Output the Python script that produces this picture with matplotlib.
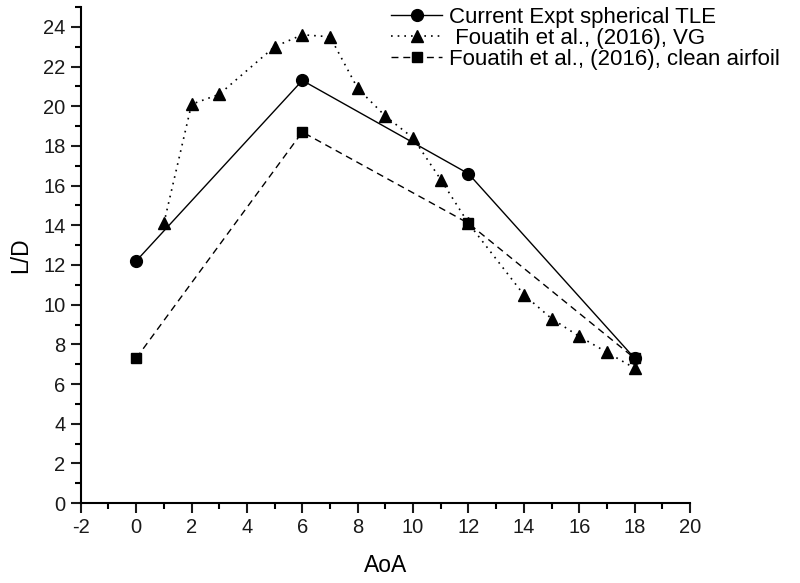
import numpy as np
import matplotlib.pyplot as plt
from matplotlib.ticker import MultipleLocator

plt.rcParams['font.family'] = ['Liberation Sans', 'DejaVu Sans']
plt.rcParams['axes.unicode_minus'] = False

# Current experiment, spherical TLE
aoa_tle = [0, 6, 12, 18]
ld_tle = [12.2, 21.3, 16.6, 7.3]

# Fouatih et al. (2016), VG
aoa_vg = [1, 2, 3, 5, 6, 7, 8, 9, 10, 11, 12, 14, 15, 16, 17, 18]
ld_vg = [14.1, 20.1, 20.6, 23.0, 23.6, 23.5, 20.9, 19.5, 18.4, 16.3, 14.1,
         10.5, 9.3, 8.4, 7.6, 6.8]

# Fouatih et al. (2016), clean airfoil
aoa_clean = [0, 6, 12, 18]
ld_clean = [7.3, 18.7, 14.1, 7.3]

fig = plt.figure(figsize=(8, 5.83), dpi=100)
ax = fig.add_axes([0.101, 0.137, 0.7615, 0.851])

ax.plot(aoa_tle, ld_tle, 'k-', marker='o', ms=8.5, lw=1,
        label='Current Expt spherical TLE')
ax.plot(aoa_vg, ld_vg, 'k', ls=(0, (1, 3)), marker='^', ms=9, lw=1.2,
        label=' Fouatih et al., (2016), VG')
ax.plot(aoa_clean, ld_clean, 'k', ls=(0, (5, 3.5)), marker='s', ms=7.5, lw=1,
        label='Fouatih et al., (2016), clean airfoil')

ax.set_xlim(-2, 20)
ax.set_ylim(0, 25)
ax.xaxis.set_major_locator(MultipleLocator(2))
ax.xaxis.set_minor_locator(MultipleLocator(1))
ax.yaxis.set_minor_locator(MultipleLocator(1))
ax.set_yticks(np.arange(0, 25, 2))

for s in ['top', 'right']:
    ax.spines[s].set_visible(False)
for s in ['left', 'bottom']:
    ax.spines[s].set_linewidth(1.5)
ax.tick_params(which='major', length=7, width=1.5, labelsize=14.5,
               colors='#1a1a1a', pad=4)
ax.tick_params(which='minor', length=4, width=1.5)

ax.set_xlabel('AoA', fontsize=16.5, labelpad=12)
ax.set_ylabel('L/D', fontsize=16.5, labelpad=8)

ax.legend(loc='upper right', bbox_to_anchor=(1.18, 1.04), frameon=False,
          fontsize=16, handlelength=2.3, handletextpad=0.3,
          labelspacing=0.0)

fig.savefig('out.png', dpi=100)
